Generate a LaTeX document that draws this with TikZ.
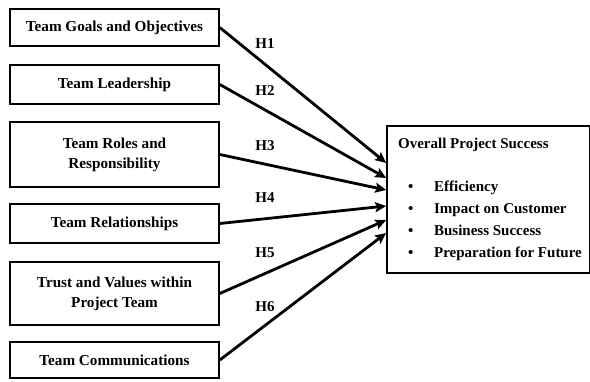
\documentclass[tikz,border=0pt]{standalone}
\usepackage{fontspec}
\setmainfont{Liberation Serif}
\usepackage{tikz}
\usetikzlibrary{arrows.meta}
\newcommand{\pitem}[1]{\makebox[39pt][l]{\hspace{13pt}\textbullet}#1}

\begin{document}
\begin{tikzpicture}[
    x=1pt,y=-1pt,
    inbox/.style={draw, line width=1.6pt, minimum width=209pt, inner sep=2pt, align=center,
      font=\fontsize{15.2}{20}\selectfont\bfseries},
    outbox/.style={draw, line width=1.6pt, minimum width=203pt, minimum height=147pt,
      align=left, font=\fontsize{15}{22}\selectfont\bfseries},
    hyp/.style={font=\fontsize{15}{17}\selectfont\bfseries},
    link/.style={line width=2.8pt, -{Stealth[length=11pt,width=10pt,inset=2pt]}}
    ]
    \useasboundingbox (0, 0) rectangle (590, 381);
    \node[inbox, minimum height=37pt] (goals) at (114.5, 27.5) {Team Goals and Objectives};
    \node[inbox, minimum height=39pt] (lead) at (114.5, 84.5) {Team Leadership};
    \node[inbox, minimum height=65pt] (roles) at (114.5, 154.5) {Team Roles and\\Responsibility};
    \node[inbox, minimum height=39pt] (rel) at (114.5, 223.5) {Team Relationships};
    \node[inbox, minimum height=63pt] (trust) at (114.5, 293.5) {Trust and Values within\\Project Team};
    \node[inbox, minimum height=36pt] (comm) at (114.5, 360) {Team Communications};
    \node[outbox] (success) at (488.5, 199.5) {\hspace*{3pt}Overall Project Success\\[21pt]
      \pitem{Efficiency}\\
      \pitem{Impact on Customer}\\
      \pitem{Business Success}\\
      \pitem{Preparation for Future}};
    \coordinate (t1) at ([yshift=36.5pt]success.west);
    \coordinate (t2) at ([yshift=21.5pt]success.west);
    \coordinate (t3) at ([yshift=9.5pt]success.west);
    \coordinate (t4) at ([yshift=-6.5pt]success.west);
    \coordinate (t5) at ([yshift=-20.5pt]success.west);
    \coordinate (t6) at ([yshift=-33.5pt]success.west);
    \draw[link] (goals.east) -- (t1);
    \draw[link] (lead.east) -- (t2);
    \draw[link] (roles.east) -- (t3);
    \draw[link] (rel.east) -- (t4);
    \draw[link] (trust.east) -- (t5);
    \draw[link] (comm.east) -- (t6);
    \node[hyp] (h1) at (265, 44) {H1};
    \node[hyp] (h2) at (265, 91) {H2};
    \node[hyp] (h3) at (265, 146) {H3};
    \node[hyp] (h4) at (265, 198) {H4};
    \node[hyp] (h5) at (265, 253) {H5};
    \node[hyp] (h6) at (265, 307) {H6};
\end{tikzpicture}
\end{document}
